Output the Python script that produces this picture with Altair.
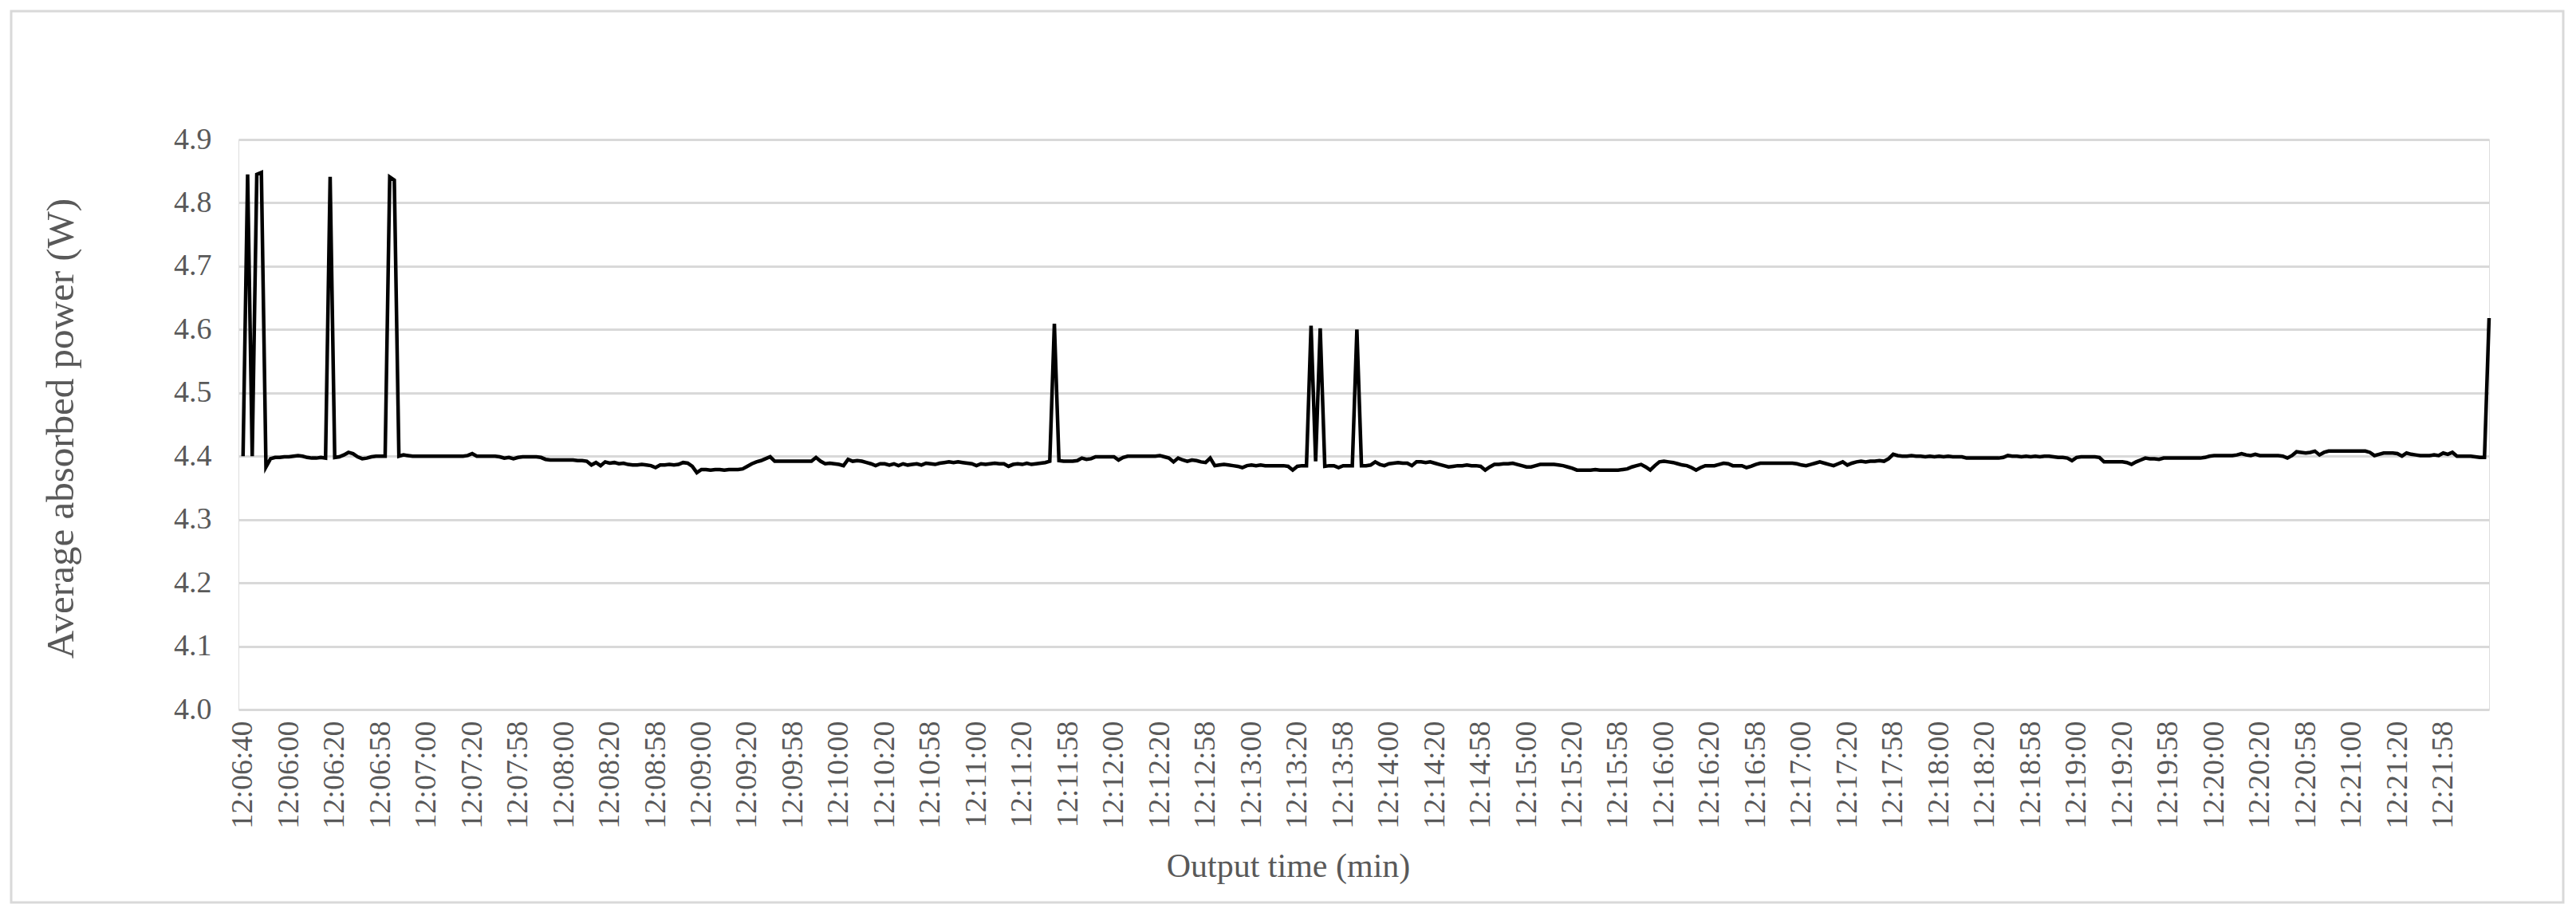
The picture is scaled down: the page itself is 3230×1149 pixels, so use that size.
import json
import altair as alt
import pandas as pd

# Tick labels shown on the category axis (one every 10 samples)
time_labels = [
    "12:06:40", "12:06:00", "12:06:20", "12:06:58", "12:07:00", "12:07:20", "12:07:58",
    "12:08:00", "12:08:20", "12:08:58", "12:09:00", "12:09:20", "12:09:58", "12:10:00",
    "12:10:20", "12:10:58", "12:11:00", "12:11:20", "12:11:58", "12:12:00", "12:12:20",
    "12:12:58", "12:13:00", "12:13:20", "12:13:58", "12:14:00", "12:14:20", "12:14:58",
    "12:15:00", "12:15:20", "12:15:58", "12:16:00", "12:16:20", "12:16:58", "12:17:00",
    "12:17:20", "12:17:58", "12:18:00", "12:18:20", "12:18:58", "12:19:00", "12:19:20",
    "12:19:58", "12:20:00", "12:20:20", "12:20:58", "12:21:00", "12:21:20", "12:21:58",
]
samples_per_label = 10

# Average absorbed power (W), 10 samples per label interval
power = [
    4.400, 4.845, 4.400, 4.845, 4.848, 4.383, 4.396, 4.398, 4.398, 4.399,
    4.399, 4.400, 4.401, 4.400, 4.398, 4.397, 4.397, 4.398, 4.397, 4.841,
    4.398, 4.399, 4.402, 4.406, 4.404, 4.399, 4.396, 4.397, 4.399, 4.400,
    4.400, 4.400, 4.841, 4.836, 4.400, 4.402, 4.401, 4.400, 4.400, 4.400,
    4.400, 4.400, 4.400, 4.400, 4.400, 4.400, 4.400, 4.400, 4.400, 4.401,
    4.404, 4.400, 4.400, 4.400, 4.400, 4.400, 4.399, 4.397, 4.398, 4.396,
    4.398, 4.399, 4.399, 4.399, 4.399, 4.398, 4.395, 4.394, 4.394, 4.394,
    4.394, 4.394, 4.394, 4.393, 4.393, 4.392, 4.386, 4.390, 4.385, 4.391,
    4.389, 4.390, 4.388, 4.389, 4.387, 4.386, 4.386, 4.387, 4.386, 4.385,
    4.382, 4.386, 4.386, 4.387, 4.386, 4.387, 4.390, 4.389, 4.384, 4.374,
    4.379, 4.379, 4.378, 4.379, 4.379, 4.378, 4.379, 4.379, 4.379, 4.380,
    4.384, 4.388, 4.391, 4.393, 4.396, 4.399, 4.392, 4.392, 4.392, 4.392,
    4.392, 4.392, 4.392, 4.392, 4.392, 4.398, 4.392, 4.388, 4.389, 4.388,
    4.387, 4.385, 4.395, 4.392, 4.393, 4.392, 4.390, 4.388, 4.385, 4.388,
    4.388, 4.386, 4.388, 4.385, 4.388, 4.386, 4.387, 4.388, 4.386, 4.389,
    4.388, 4.387, 4.389, 4.390, 4.391, 4.390, 4.391, 4.390, 4.389, 4.388,
    4.385, 4.388, 4.387, 4.388, 4.389, 4.388, 4.388, 4.384, 4.387, 4.388,
    4.387, 4.389, 4.387, 4.388, 4.389, 4.390, 4.392, 4.609, 4.393, 4.392,
    4.392, 4.392, 4.393, 4.397, 4.395, 4.396, 4.399, 4.399, 4.399, 4.399,
    4.399, 4.394, 4.398, 4.400, 4.400, 4.400, 4.400, 4.400, 4.400, 4.400,
    4.401, 4.399, 4.397, 4.391, 4.397, 4.394, 4.392, 4.394, 4.393, 4.391,
    4.390, 4.397, 4.385, 4.386, 4.387, 4.386, 4.385, 4.384, 4.382, 4.385,
    4.386, 4.385, 4.386, 4.385, 4.385, 4.385, 4.385, 4.385, 4.384, 4.378,
    4.384, 4.385, 4.385, 4.606, 4.392, 4.602, 4.384, 4.385, 4.385, 4.382,
    4.385, 4.385, 4.385, 4.600, 4.385, 4.385, 4.386, 4.391, 4.387, 4.385,
    4.388, 4.389, 4.390, 4.389, 4.389, 4.385, 4.391, 4.391, 4.390, 4.391,
    4.389, 4.387, 4.385, 4.383, 4.384, 4.385, 4.385, 4.386, 4.385, 4.385,
    4.384, 4.378, 4.383, 4.387, 4.387, 4.388, 4.388, 4.389, 4.387, 4.385,
    4.383, 4.383, 4.385, 4.387, 4.387, 4.387, 4.387, 4.386, 4.385, 4.383,
    4.381, 4.378, 4.378, 4.378, 4.378, 4.379, 4.378, 4.378, 4.378, 4.378,
    4.378, 4.379, 4.380, 4.383, 4.385, 4.387, 4.383, 4.378, 4.385, 4.391,
    4.392, 4.391, 4.390, 4.388, 4.386, 4.385, 4.382, 4.378, 4.382, 4.385,
    4.385, 4.385, 4.387, 4.389, 4.388, 4.385, 4.385, 4.385, 4.382, 4.384,
    4.387, 4.389, 4.389, 4.389, 4.389, 4.389, 4.389, 4.389, 4.389, 4.388,
    4.386, 4.385, 4.387, 4.389, 4.391, 4.389, 4.387, 4.385, 4.388, 4.391,
    4.386, 4.389, 4.391, 4.392, 4.391, 4.392, 4.392, 4.393, 4.392, 4.396,
    4.403, 4.401, 4.400, 4.400, 4.401, 4.400, 4.400, 4.399, 4.400, 4.399,
    4.400, 4.399, 4.400, 4.399, 4.399, 4.399, 4.397, 4.397, 4.397, 4.397,
    4.397, 4.397, 4.397, 4.397, 4.398, 4.401, 4.400, 4.400, 4.399, 4.400,
    4.399, 4.400, 4.399, 4.400, 4.400, 4.399, 4.398, 4.398, 4.397, 4.393,
    4.398, 4.399, 4.399, 4.399, 4.399, 4.398, 4.391, 4.391, 4.391, 4.391,
    4.391, 4.390, 4.387, 4.391, 4.394, 4.397, 4.396, 4.396, 4.395, 4.397,
    4.397, 4.397, 4.397, 4.397, 4.397, 4.397, 4.397, 4.397, 4.398, 4.400,
    4.401, 4.401, 4.401, 4.401, 4.401, 4.402, 4.404, 4.402, 4.401, 4.403,
    4.401, 4.401, 4.401, 4.401, 4.401, 4.400, 4.397, 4.401, 4.407, 4.406,
    4.405, 4.406, 4.408, 4.402, 4.406, 4.408, 4.408, 4.408, 4.408, 4.408,
    4.408, 4.408, 4.408, 4.408, 4.406, 4.401, 4.403, 4.405, 4.405, 4.405,
    4.404, 4.400, 4.405, 4.403, 4.402, 4.401, 4.401, 4.401, 4.402, 4.401,
    4.405, 4.403, 4.406, 4.400, 4.400, 4.400, 4.400, 4.399, 4.398, 4.398,
    4.618,
]

y_ticks = [4.0, 4.1, 4.2, 4.3, 4.4, 4.5, 4.6, 4.7, 4.8, 4.9]

df = pd.DataFrame({"idx": list(range(len(power))), "power": power})

W, H = 2822, 715
FONT = "Liberation Serif"
GREY_TXT = "#595959"
GRID = "#d9d9d9"

label_values = [i * samples_per_label for i in range(len(time_labels))]
label_expr = f"{json.dumps(time_labels)}[round(datum.value / {samples_per_label})]"

line = alt.Chart(df).mark_line(color="black", strokeWidth=4.5, strokeJoin="miter", strokeMiterLimit=20).encode(
    x=alt.X(
        "idx:Q",
        scale=alt.Scale(domain=[-1, len(power) - 1], nice=False, zero=False),
        axis=alt.Axis(
            values=label_values,
            labelExpr=label_expr,
            labelAngle=270,
            labelAlign="right",
            labelBaseline="middle",
            labelFont=FONT,
            labelFontSize=38,
            labelColor=GREY_TXT,
            labelPadding=14,
            labelOverlap=False,
            labelFlush=False,
            ticks=False,
            domain=False,
            grid=False,
            title="Output time (min)",
            titleFont=FONT,
            titleFontSize=42,
            titleFontWeight="normal",
            titleColor=GREY_TXT,
            titleAlign="center",
            titleBaseline="middle",
            titleX=1316,
            titleY=196,
        ),
    ),
    y=alt.Y(
        "power:Q",
        scale=alt.Scale(domain=[4.0, 4.9], nice=False, zero=False),
        axis=alt.Axis(
            values=y_ticks,
            format=".1f",
            labelFont=FONT,
            labelFontSize=38,
            labelColor=GREY_TXT,
            labelPadding=34,
            ticks=False,
            domain=False,
            grid=True,
            gridColor=GRID,
            gridWidth=3,
            title="Average absorbed power (W)",
            titleFont=FONT,
            titleFontSize=49,
            titleFontWeight="normal",
            titleColor=GREY_TXT,
            titleAngle=270,
            titleAlign="center",
            titleBaseline="middle",
            titleX=-223,
            titleY=362,
        ),
    ),
)

frame = alt.Chart(pd.DataFrame({"k": [0]})).mark_rect(
    filled=False, stroke=GRID, strokeWidth=3, clip=False
).encode(
    x=alt.value(-285), x2=alt.value(W + 93), y=alt.value(-161), y2=alt.value(H + 242)
)

chart = alt.layer(frame, line).properties(
    width=W,
    height=H,
    autosize=alt.AutoSizeParams(type="none"),
    padding={"left": 291, "top": 167, "right": 100, "bottom": 250},
).configure_view(stroke=None).configure(background="white")

chart.save("out.html", embed_options={"renderer": "svg", "actions": False})
